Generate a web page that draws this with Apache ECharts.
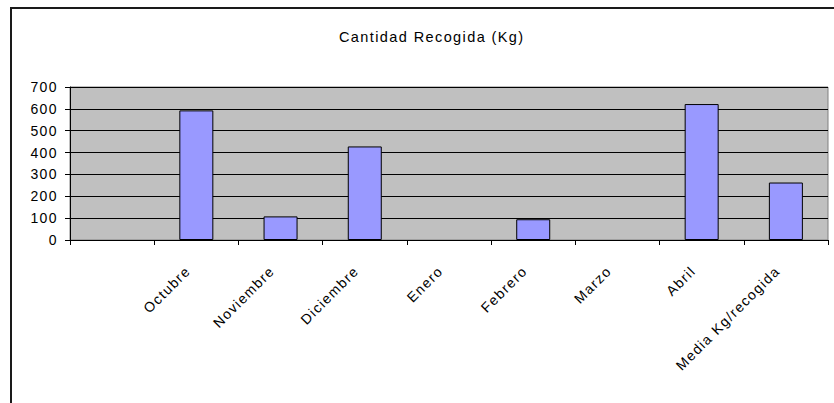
<!DOCTYPE html>
<html>
<head>
<meta charset="utf-8">
<script src="https://cdn.jsdelivr.net/npm/echarts@6/dist/echarts.min.js"></script>
<style>
  html, body { margin: 0; padding: 0; background: #fff; overflow: hidden; }
  #frame { position: absolute; left: 10px; top: 7px; width: 900px; height: 500px;
    border: 2px solid #1a1a1a; box-sizing: border-box; }
  #chart { position: absolute; left: 0; top: 0; width: 834px; height: 403px; }
  /* texto de Excel con espaciado ancho: el renderer SVG respeta letter-spacing */
  #chart svg text { letter-spacing: 1.4px; }
</style>
</head>
<body>
<div id="frame"></div>
<div id="chart"></div>
<script>
// categorías (la primera va vacía, como en la hoja original)
const MESES = ['', 'Octubre', 'Noviembre', 'Diciembre', 'Enero', 'Febrero', 'Marzo', 'Abril', 'Media Kg/recogida']
// Enero y Marzo sin recogida (celdas vacías)
const KG = [null, 593, 108, 428, null, 95, null, 622, 263]
const Y_TICKS = [0, 100, 200, 300, 400, 500, 600, 700]

const chart = echarts.init(document.getElementById('chart'), null, { renderer: 'svg' })
const FONT = 'Liberation Sans, Arial, sans-serif'

chart.setOption({
  animation: false,
  backgroundColor: 'transparent',
  title: {
    text: 'Cantidad Recogida (Kg)', left: 334, top: 24,
    textStyle: { fontFamily: FONT, fontSize: 14.5, fontWeight: 'normal', color: '#000' },
  },
  grid: {
    left: 70, right: 6, top: 87, bottom: 163,
    show: true, backgroundColor: '#C0C0C0', borderColor: '#808080', borderWidth: 1,
  },
  xAxis: {
    type: 'category', data: MESES,
    axisLine: { lineStyle: { color: '#000', width: 1 } },
    axisTick: { show: true, length: 5, lineStyle: { color: '#000' } },
    axisLabel: {
      interval: 0, rotate: 45, margin: 20, padding: [0, 12, 0, 0],
      fontFamily: FONT, fontSize: 14, color: '#000',
    },
  },
  yAxis: {
    type: 'value', min: Y_TICKS[0], max: Y_TICKS[Y_TICKS.length - 1], interval: 100,
    axisLine: { show: true, lineStyle: { color: '#000', width: 1 } },
    axisTick: { show: true, length: 5, lineStyle: { color: '#000' } },
    axisLabel: { margin: 12, fontFamily: FONT, fontSize: 14, color: '#000' },
    splitLine: { show: true, lineStyle: { color: '#000', width: 1 } },
  },
  series: [{
    type: 'bar', data: KG, barWidth: 34,
    itemStyle: { color: '#9999FF', borderColor: '#000', borderWidth: 1 },
  }],
})
</script>
</body>
</html>
